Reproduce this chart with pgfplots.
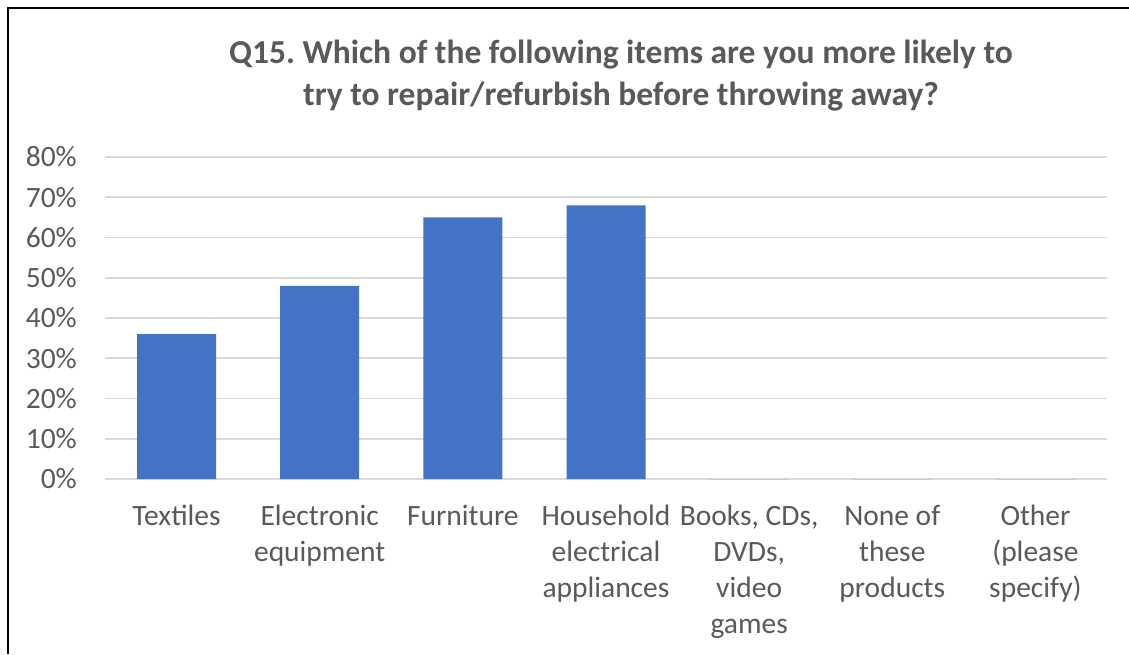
\documentclass[border=0pt]{standalone}
\usepackage{fontspec}
\setmainfont{Carlito}
\usepackage{pgfplots}
\pgfplotsset{compat=1.18}
\definecolor{barblue}{HTML}{4472C4}
\definecolor{txtgray}{HTML}{595959}
\definecolor{gridgray}{HTML}{D9D9D9}
\frenchspacing
\begin{document}
\begin{tikzpicture}[x=1pt,y=1pt]
\useasboundingbox (0,0) rectangle (1129,-654);
\draw[black, line width=2pt] (8,-654) -- (8,-8) -- (1129,-8);
\node[font=\fontsize{33.5}{42}\selectfont\bfseries, text=txtgray, align=center] at (621,-76)
  {Q15.\ Which of the following items are you more likely to\\try to repair/refurbish before throwing away?};
\begin{axis}[
  at={(105pt,-479pt)}, anchor=south west,
  scale only axis, width=1002pt, height=322pt,
  xmin=-0.5, xmax=6.5, ymin=0, ymax=80,
  axis x line=bottom, axis y line=left,
  x axis line style={gridgray, line width=1.8pt, -},
  y axis line style={draw=none, -},
  ytick={0,10,...,80},
  ymajorgrids, major grid style={gridgray, line width=1.8pt},
  xtick={0,...,6}, major tick length=0pt,
  xticklabels={{Textiles},{Electronic\\equipment},{Furniture},{Household\\electrical\\appliances},{Books, CDs,\\DVDs,\\video\\games},{None of\\these\\products},{Other\\(please\\specify)}},
  xticklabel style={anchor=north, inner sep=0pt, yshift=-26pt, align=center, font=\fontsize{29.5}{36}\selectfont, text=txtgray},
  yticklabel style={anchor=east, inner sep=0pt, xshift=-28pt, font=\fontsize{29.5}{34}\selectfont, text=txtgray},
  yticklabel={\pgfmathprintnumber{\tick}\%},
  /pgf/number format/assume math mode=true,
  clip=false,
]
\addplot[ybar, bar width=79pt, fill=barblue, draw=none]
  coordinates {(0,36) (1,48) (2,65) (3,68) (4,0) (5,0) (6,0)};
\end{axis}
\end{tikzpicture}
\end{document}
